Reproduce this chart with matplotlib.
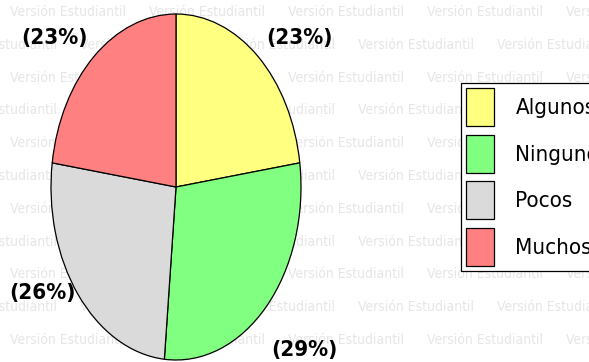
import numpy as np
import matplotlib
matplotlib.use("Agg")
import matplotlib.pyplot as plt

# Respuestas por categoria (porcentajes)
categorias = ["Algunos", "Ninguno", "Pocos", "Muchos"]
porcentajes = [23, 29, 26, 23]
colores = ["#FFFF80", "#80FF80", "#DADADA", "#FF8080"]

# posicion de cada etiqueta, en radios de la elipse
pos_etiquetas = [(0.99, 0.86), (1.03, -0.94), (-1.07, -0.61), (-0.97, 0.86)]

plt.rcParams["font.family"] = ["DejaVu Sans"]
plt.rcParams["font.stretch"] = "condensed"

fig = plt.figure(figsize=(5.89, 3.62), dpi=100)
fig.patch.set_facecolor("white")

# marca de agua de fondo, en un eje detras del grafico
fondo = fig.add_axes([0, 0, 1, 1], zorder=-1)
fondo.set_xlim(0, 589)
fondo.set_ylim(362, 0)
fondo.axis("off")
for fila in range(11):
    y = 12 + fila * 32.8
    x0 = 10 if fila % 2 == 0 else 80
    for col in range(-1, 5):
        fondo.text(x0 + col * 139, y, "Versión Estudiantil", fontsize=10,
                   color="#e6e6e6", ha="left", va="center", stretch="condensed")

ax = fig.add_axes([51 / 589, 2 / 362, 250 / 589, 346 / 362], zorder=1)
ax.set_facecolor("none")
wedges, _ = ax.pie(porcentajes, colors=colores, startangle=90, counterclock=False,
                   wedgeprops=dict(edgecolor="black", linewidth=0.9))
ax.set_aspect("auto")
ax.set_xlim(-1, 1)
ax.set_ylim(-1, 1)
ax.axis("off")

for valor, (px, py) in zip(porcentajes, pos_etiquetas):
    ax.text(px, py, f"({valor}%)", ha="center", va="center", fontsize=16,
            fontweight="bold", stretch="condensed", clip_on=False)

leg = fig.legend(wedges, categorias, loc="upper left",
                 bbox_to_anchor=(461 / 589, 1 - 83 / 362), fontsize=16,
                 handlelength=1.26, handleheight=2.26, labelspacing=0.38,
                 handletextpad=0.95, borderpad=0.24, borderaxespad=0,
                 fancybox=False, framealpha=1, edgecolor="black")
leg.get_frame().set_linewidth(0.9)
leg.set_zorder(2)

fig.savefig("out.png", dpi=100)
